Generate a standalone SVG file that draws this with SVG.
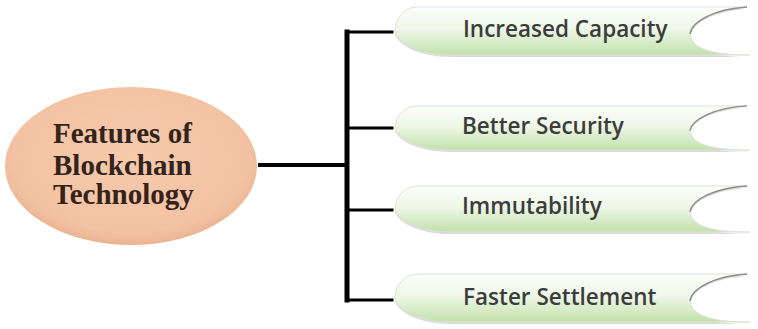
<svg xmlns="http://www.w3.org/2000/svg" width="758" height="329" viewBox="0 0 758 329">
  <style>
    .hub-text { font-family: "Liberation Serif", "Times New Roman", serif; font-weight: bold; font-size: 29px; fill: #33231a; }
    .item-text { font-family: "Open Sans", "Liberation Sans", sans-serif; font-weight: 600; font-size: 22.5px; fill: #3c3c3c; }
    .banner { fill: url(#bannerFill); stroke: #dde2da; stroke-width: 1; }
    .banner-shadow { fill: #9a9a9a; opacity: 0.35; }
    .notch { fill: none; stroke: #8d8d8d; stroke-width: 1.5; }
    .link { stroke: #000; fill: none; stroke-linecap: square; }
  </style>
  <defs>
    <linearGradient id="bannerFill" x1="0" y1="0" x2="0" y2="1">
      <stop offset="0" stop-color="#fcfdfb"/>
      <stop offset="0.45" stop-color="#eef7e8"/>
      <stop offset="1" stop-color="#c2e1aa"/>
    </linearGradient>
    <radialGradient id="hubFill" cx="0.5" cy="0.45" r="0.55">
      <stop offset="0" stop-color="#f6caad"/>
      <stop offset="0.85" stop-color="#f3c2a2"/>
      <stop offset="1" stop-color="#eab494"/>
    </radialGradient>
    <filter id="soft" x="-5%" y="-5%" width="110%" height="110%">
      <feGaussianBlur stdDeviation="0.4"/>
    </filter>
    <!-- banner outline with a rounded leading tip and a concave tail; local y from -24 to 24 -->
    <path id="bannerShape" d="M418,-24 L747,-24 C715,-22 692,-10 690,3 C692,18 712,24 750,24 L450,24 C415,24 395,9 395,0 C395,-12 404,-24 418,-24 Z"/>
    <path id="notchLine" d="M747,-24 C715,-22 692,-10 690,3"/>
  </defs>

  <g id="hub">
    <ellipse cx="131" cy="166" rx="126" ry="79" fill="url(#hubFill)"/>
    <text class="hub-text" x="53" y="143">Features of</text>
    <text class="hub-text" x="53" y="175">Blockchain</text>
    <text class="hub-text" x="53" y="204">Technology</text>
  </g>

  <g id="connectors">
    <line class="link" x1="260" y1="165" x2="347" y2="165" stroke-width="4"/>
    <line class="link" x1="347" y1="32" x2="347" y2="300" stroke-width="5"/>
    <line class="link" x1="347" y1="32" x2="392" y2="32" stroke-width="3"/>
    <line class="link" x1="347" y1="128" x2="392" y2="128" stroke-width="3"/>
    <line class="link" x1="347" y1="210" x2="392" y2="210" stroke-width="3"/>
    <line class="link" x1="347" y1="300" x2="392" y2="300" stroke-width="3"/>
  </g>

  <g id="item-capacity">
    <g transform="translate(0,31)">
      <use href="#bannerShape" class="banner-shadow" transform="translate(0,2)" filter="url(#soft)"/>
      <use href="#bannerShape" class="banner"/>
      <use href="#notchLine" class="notch"/>
    </g>
    <text class="item-text" x="463" y="37">Increased Capacity</text>
  </g>

  <g id="item-security">
    <g transform="translate(0,128) scale(1,0.92)">
      <use href="#bannerShape" class="banner-shadow" transform="translate(0,2)" filter="url(#soft)"/>
      <use href="#bannerShape" class="banner"/>
      <use href="#notchLine" class="notch"/>
    </g>
    <text class="item-text" x="462" y="134">Better Security</text>
  </g>

  <g id="item-immutability">
    <g transform="translate(0,209) scale(1,0.96)">
      <use href="#bannerShape" class="banner-shadow" transform="translate(0,2)" filter="url(#soft)"/>
      <use href="#bannerShape" class="banner"/>
      <use href="#notchLine" class="notch"/>
    </g>
    <text class="item-text" x="462" y="214">Immutability</text>
  </g>

  <g id="item-settlement">
    <g transform="translate(0,298)">
      <use href="#bannerShape" class="banner-shadow" transform="translate(0,2)" filter="url(#soft)"/>
      <use href="#bannerShape" class="banner"/>
      <use href="#notchLine" class="notch"/>
    </g>
    <text class="item-text" x="463" y="305">Faster Settlement</text>
  </g>
</svg>
